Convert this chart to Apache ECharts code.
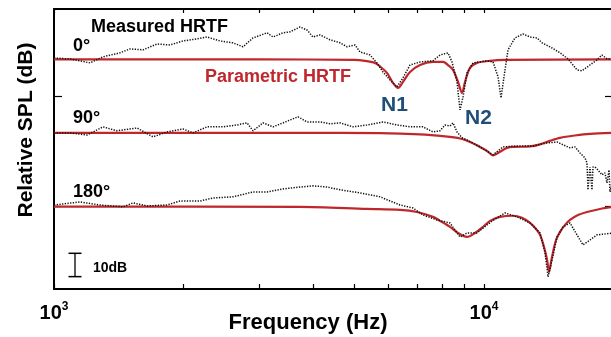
<!DOCTYPE html>
<html>
<head>
<meta charset="utf-8">
<script src="https://cdn.jsdelivr.net/npm/echarts@6/dist/echarts.min.js"></script>
<style>
  html, body { margin: 0; padding: 0; background: #fff; }
  #chart { width: 611px; height: 337px; }
</style>
</head>
<body>
<div id="chart"></div>
<script>
// offsets (dB) used to stack the three directions
const OFFSET_0 = 63.1;
const OFFSET_90 = 31.6;
const OFFSET_180 = 0;

// 0 deg - measured
const FREQ_0_MEAS = [1000, 1089, 1213, 1300, 1424, 1502, 1611, 1736, 1861, 1995, 2150, 2269, 2432, 2608, 2751, 2903, 3129, 3231, 3409, 3539, 3733, 3876, 4002, 4155, 4384, 4626, 4803, 5012, 5146, 5430, 5638, 5822, 6045, 6276, 6481, 6729, 7099, 7610, 7902, 8248, 8425, 8653, 8795, 8937, 9129, 9428, 10162, 10493, 10780, 10953, 11130, 11370, 11803, 12320, 12794, 13284, 13645, 14395, 15026, 15683, 16453, 16899, 17637, 18311, 18807, 19319, 20000];
const DB_0_MEAS = [0.6, 0.2, -1.5, 1.1, 2.8, 4.5, 4.1, 6.6, 6.2, 7.9, 8.8, 9.6, 7.9, 7.1, 5.4, 9.2, 11.4, 9.6, 11.4, 11.8, 13.9, 12.6, 9.6, 10.5, 8.4, 7.1, 5.4, 6.2, 3.2, 1.9, -1.5, -5.4, -8.8, -11.8, -7.9, -2.4, -1.1, -0.6, 1.9, 2.8, -1.1, -9.6, -21.6, -16.1, -5.8, -1.5, -0.6, -1.1, -7.5, -16.5, -7.5, 4.1, 9.2, 10.9, 9.6, 9.2, 7.1, 4.9, 2.8, 0.2, -4.5, -4.9, -2.4, -0.2, 1.9, 0.2, 0.2];

// 0 deg - parametric
const FREQ_0_PAR = [1000, 3000, 4986, 5287, 5578, 5729, 5949, 6144, 6310, 6481, 6729, 7099, 7610, 8030, 8292, 8470, 8701, 8888, 9034, 9277, 9632, 10328, 11189, 20000];
const DB_0_PAR = [0, 0, -0.2, -0.6, -1.5, -3.0, -5.8, -10.1, -12.2, -9.6, -5.4, -2.4, -1.1, -1.1, -2.8, -4.5, -9.6, -14.4, -9.6, -3.6, -1.5, -0.6, -0.2, 0];

// 90 deg - measured
const FREQ_90_MEAS = [1000, 1089, 1193, 1300, 1401, 1560, 1699, 1831, 1995, 2105, 2269, 2472, 2665, 2811, 2903, 3062, 3231, 3409, 3694, 3876, 4155, 4384, 4626, 4959, 5343, 5822, 6276, 6729, 7214, 7610, 7902, 8117, 8336, 8470, 8653, 8888, 9129, 9788, 10493, 11071, 11930, 13002, 14015, 14787, 15269, 15849, 16278, 16719, 17172, 17357, 17450, 17637, 17827, 17922, 18115, 18409, 18807, 19110, 19319, 19530, 19634, 20000];
const DB_90_MEAS = [0, 0, -0.9, 2.6, 0.9, 2.1, -1.7, 0.4, 1.7, 0, 2.6, 2.6, 3.4, 4.3, 0.9, 4.3, 2.6, 4.3, 6.9, 4.7, 4.7, 3.9, 4.3, 2.6, 3.4, 4.7, 3.4, 2.6, 2.6, 0.4, 0.9, 3.4, 3.0, 4.3, 0.4, -2.1, -3.0, -6.0, -9.4, -6.0, -5.6, -5.6, -4.3, -3.9, -5.1, -6.4, -6.0, -8.6, -10.7, -12.9, -24.4, -14.6, -24.4, -14.6, -14.6, -15.9, -18.0, -17.1, -21.4, -15.9, -25.3, -19.3];

// 90 deg - parametric
const FREQ_90_PAR = [1000, 3733, 5729, 7099, 8117, 8795, 9277, 9788, 10162, 10493, 10895, 11310, 11803, 12794, 13499, 14242, 15026, 16278, 17637, 20000];
const DB_90_PAR = [0, 0, -0.1, -0.6, -1.5, -2.4, -3.9, -6.0, -7.7, -9.6, -8.1, -6.4, -6.0, -5.8, -4.9, -3.4, -2.1, -1.1, -0.4, 0];

// 180 deg - measured
const FREQ_180_MEAS = [1000, 1149, 1279, 1447, 1527, 1646, 1831, 1963, 2185, 2343, 2608, 2903, 3129, 3409, 3733, 4002, 4314, 4626, 5146, 5729, 6378, 6838, 7214, 7775, 8336, 8795, 9129, 9632, 10162, 10720, 11189, 11930, 12794, 13499, 13866, 14090, 14395, 14787, 15269, 15849, 16453, 16989, 17637, 18311, 20000];
const DB_180_MEAS = [0.7, 2.0, 0.7, -0.1, 1.6, 0.3, 0.7, 2.4, 2.4, 3.7, 4.2, 6.3, 6.3, 7.6, 8.4, 8.9, 8.4, 7.2, 5.9, 4.2, 0.7, -0.6, -3.6, -5.7, -7.0, -13.0, -11.3, -11.3, -7.8, -4.8, -2.7, -4.4, -7.0, -11.3, -19.8, -30.1, -22.8, -13.0, -8.7, -7.0, -12.1, -16.4, -14.3, -12.1, -11.3];

// 180 deg - parametric
const FREQ_180_PAR = [1000, 3733, 5345, 6378, 6985, 7610, 7902, 8336, 8701, 9129, 9528, 9947, 10328, 10895, 11678, 12255, 12794, 13213, 13499, 13792, 14015, 14166, 14318, 14473, 14706, 15026, 15434, 15849, 16540, 17357, 18607, 20000];
const DB_180_PAR = [0, -0.1, -1.0, -1.4, -2.3, -4.4, -6.1, -8.7, -11.3, -13.0, -11.3, -8.7, -6.1, -4.4, -3.9, -4.8, -7.0, -9.6, -12.1, -17.3, -22.8, -28.0, -23.7, -19.4, -14.3, -10.8, -7.8, -5.7, -3.6, -2.3, -1.0, -0.1];

// 10 dB scale bar
const SCALE_BAR_FREQ = 1119;
const SCALE_BAR_DB = [-30, -20];

// axis ticks
const X_TICKS = [1000, 2000, 3000, 4000, 5000, 6000, 7000, 8000, 9000, 10000];
const X_LABELS = [1000, 10000];
const Y_TICKS = [0, 47.2];

const RED = '#c0272d';
const BLUE = '#1f4e79';
const FONT = 'Arial, "Liberation Sans", sans-serif';

function toPoints(freq, db, off) {
    return freq.map(function (f, i) { return [Math.log10(f), db[i] + off]; });
}

// visible window ends just short of 20 kHz (frame is cut at the right)
const xMin = 3;
const xMax = 4.2953;
const xTickVals = X_TICKS.map(function (f) { return Math.log10(f); });
const xLabelVals = X_LABELS.map(function (f) { return Math.log10(f); });

const chart = echarts.init(document.getElementById('chart'));

function parLine(name, data) {
    return {
        name: name, type: 'line', data: data, symbol: 'none', smooth: 0.3,
        lineStyle: { color: RED, width: 2.2 }, z: 2, animation: false
    };
}
function measLine(name, data) {
    return {
        name: name, type: 'line', data: data, symbol: 'none',
        lineStyle: { color: '#111', width: 1.5, type: [1.3, 1.4] }, z: 3, animation: false
    };
}

function textEl(text, x, y, size, color, extra) {
    return Object.assign({
        type: 'text', x: x, y: y,
        style: { text: text, fill: color, font: 'bold ' + size + 'px ' + FONT, verticalAlign: 'middle' }
    }, extra || {});
}

const option = {
    animation: false,
    grid: { left: 54, top: 9, right: 0, bottom: 48 },
    xAxis: [
        {
            type: 'value', position: 'bottom', min: xMin, max: xMax,
            axisLine: { onZero: false, lineStyle: { color: '#000', width: 2 } },
            axisTick: { inside: true, length: 5, customValues: xTickVals, lineStyle: { color: '#000', width: 1.2 } },
            axisLabel: {
                customValues: xLabelVals, margin: 12,
                formatter: function (v) { return '{b|10}{s|' + Math.round(v) + '}'; },
                rich: {
                    b: { fontSize: 20, fontWeight: 'bold', fontFamily: FONT, color: '#000', lineHeight: 24 },
                    s: { fontSize: 12, fontWeight: 'bold', fontFamily: FONT, color: '#000', verticalAlign: 'top', lineHeight: 14 }
                }
            },
            splitLine: { show: false }
        },
        {
            type: 'value', position: 'top', min: xMin, max: xMax,
            axisLine: { onZero: false, lineStyle: { color: '#000', width: 2 } },
            axisTick: { inside: true, length: 4, customValues: xTickVals, lineStyle: { color: '#000', width: 1.2 } },
            axisLabel: { show: false },
            splitLine: { show: false }
        }
    ],
    yAxis: [
        {
            type: 'value', position: 'left', min: -35.3, max: 84.7,
            axisLine: { show: true, onZero: false, lineStyle: { color: '#000', width: 2 } },
            axisTick: { show: true, inside: true, length: 8, customValues: Y_TICKS, lineStyle: { color: '#000', width: 1.2 } },
            axisLabel: { show: false },
            splitLine: { show: false }
        },
        {
            type: 'value', position: 'right', min: -35.3, max: 84.7,
            axisLine: { show: false, onZero: false },
            axisTick: { show: true, inside: true, length: 6, customValues: Y_TICKS, lineStyle: { color: '#000', width: 1.2 } },
            axisLabel: { show: false },
            splitLine: { show: false }
        }
    ],
    series: [
        parLine('Parametric 0', toPoints(FREQ_0_PAR, DB_0_PAR, OFFSET_0)),
        parLine('Parametric 90', toPoints(FREQ_90_PAR, DB_90_PAR, OFFSET_90)),
        parLine('Parametric 180', toPoints(FREQ_180_PAR, DB_180_PAR, OFFSET_180)),
        measLine('Measured 0', toPoints(FREQ_0_MEAS, DB_0_MEAS, OFFSET_0)),
        measLine('Measured 90', toPoints(FREQ_90_MEAS, DB_90_MEAS, OFFSET_90)),
        measLine('Measured 180', toPoints(FREQ_180_MEAS, DB_180_MEAS, OFFSET_180)),
        {
            name: '10dB', type: 'line', animation: false,
            data: SCALE_BAR_DB.map(function (d) { return [Math.log10(SCALE_BAR_FREQ), d]; }),
            symbol: 'rect', symbolSize: [13, 1.5], showSymbol: true,
            itemStyle: { color: '#000' },
            lineStyle: { color: '#000', width: 1.3 }
        }
    ],
    graphic: [
        textEl('Measured HRTF', 91, 27, 18, '#000'),
        textEl('0°', 73, 46, 18, '#000'),
        textEl('Parametric HRTF', 205, 77, 18, RED),
        textEl('90°', 73, 118, 18, '#000'),
        textEl('180°', 73, 192, 18, '#000'),
        textEl('N1', 381, 105, 21, BLUE),
        textEl('N2', 465, 118, 21, BLUE),
        textEl('10dB', 93, 268, 14, '#000'),
        textEl('Frequency (Hz)', 308, 323, 22, '#000', { style: { text: 'Frequency (Hz)', fill: '#000', font: 'bold 22px ' + FONT, align: 'center', verticalAlign: 'middle' } }),
        textEl('Relative SPL (dB)', 26, 130, 21, '#000', { rotation: Math.PI / 2, style: { text: 'Relative SPL (dB)', fill: '#000', font: 'bold 21px ' + FONT, align: 'center', verticalAlign: 'middle' } })
    ]
};

chart.setOption(option);
</script>
</body>
</html>
